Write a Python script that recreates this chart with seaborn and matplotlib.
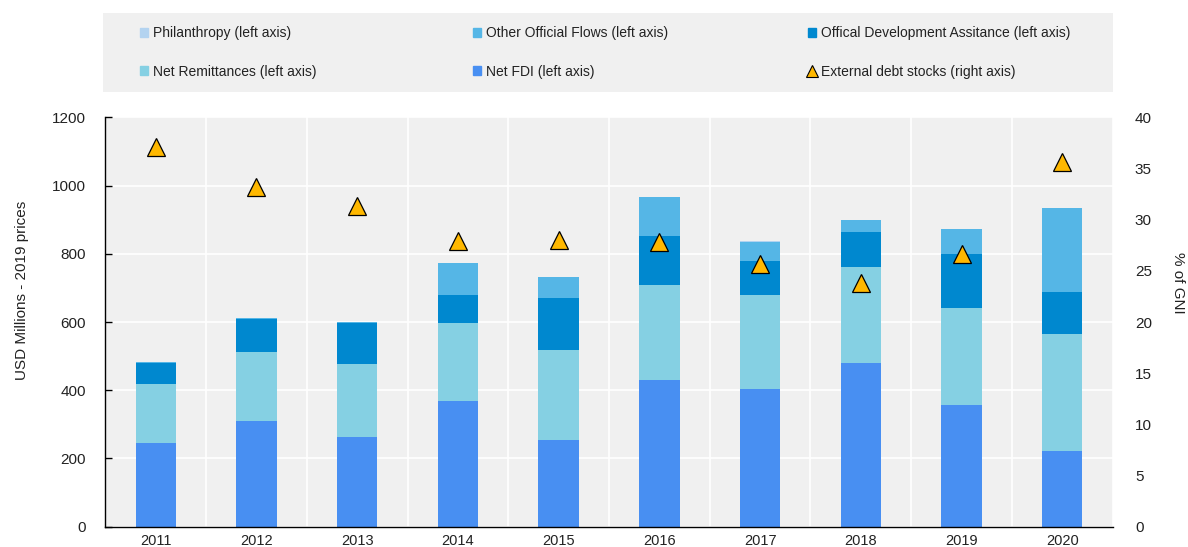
import numpy as np
import pandas as pd
import matplotlib
matplotlib.use("Agg")
import matplotlib.pyplot as plt
import matplotlib.patches as mpatches
from matplotlib.lines import Line2D
import seaborn as sns

# Data
years = ["2011", "2012", "2013", "2014", "2015", "2016", "2017", "2018", "2019", "2020"]
net_fdi = [245, 309, 262, 368, 255, 430, 404, 479, 357, 221]
net_remit = [174, 204, 216, 228, 262, 279, 276, 283, 285, 345]
oda = [60, 95, 120, 82, 153, 144, 99, 102, 158, 121]
oof = [3, 5, 2, 96, 62, 114, 56, 35, 73, 248]
philanthropy = [1, 0, 0, 0, 0, 0, 3, 1, 0, 0]
debt_stocks = [37.1, 33.2, 31.3, 27.9, 28.0, 27.8, 25.7, 23.8, 26.6, 35.6]

labels = ["Net FDI (left axis)", "Net Remittances (left axis)",
          "Offical Development Assitance (left axis)",
          "Other Official Flows (left axis)", "Philanthropy (left axis)"]
colors = ["#488FF2", "#85D0E3", "#0088CF", "#55B6E6", "#B3D3F0"]
tri_color = "#FFB800"

df = pd.DataFrame({"year": years, labels[0]: net_fdi, labels[1]: net_remit,
                   labels[2]: oda, labels[3]: oof, labels[4]: philanthropy})
cum = df[labels].cumsum(axis=1)
cum["year"] = years

sns.set_theme(style="white")
plt.rcParams["font.family"] = ["Liberation Sans", "DejaVu Sans"]
plt.rcParams["text.color"] = "#222222"

W, H = 1188, 547
fig = plt.figure(figsize=(W / 100, H / 100), dpi=100, facecolor="white")
ax = fig.add_axes([105.3 / W, 1 - 526.7 / H, (1112.7 - 105.3) / W, (526.7 - 117.3) / H])
ax.set_facecolor("#F0F0F0")

# stacked bars: draw cumulative totals from the top layer down
for lab, col in zip(labels[::-1], colors[::-1]):
    sns.barplot(data=cum, x="year", y=lab, color=col, saturation=1, width=0.4,
                linewidth=0, ax=ax)

ax.set_ylim(0, 1200)
ax.set_yticks(range(0, 1201, 200))
ax.set_xlabel("")
ax.set_ylabel("")

ax2 = ax.twinx()
sns.pointplot(x=years, y=debt_stocks, ax=ax2, color=tri_color, markers="^",
              linestyles="none", errorbar=None, markersize=13.5,
              markeredgecolor="black", markeredgewidth=0.9)
ax2.set_ylim(0, 40)
ax2.set_yticks(range(0, 41, 5))
ax2.set_xlim(-0.5, 9.5)
ax.set_xlim(-0.5, 9.5)

# x ticks: labels at centres, tick marks at category boundaries
ax.set_xticks(range(len(years)))
ax.set_xticklabels(years)
ax.set_xticks(np.arange(-0.5, len(years), 1), minor=True)
ax.tick_params(axis="x", which="major", length=0, pad=5, labelsize=10.5, labelcolor="#222222")
ax.tick_params(axis="x", which="minor", direction="in", length=5, width=1, color="black")
ax.tick_params(axis="y", direction="in", length=5, width=1, color="black", pad=14,
               labelsize=11, labelcolor="#222222", left=True)
ax2.tick_params(axis="y", length=0, pad=16, labelsize=11, labelcolor="#222222")

ax.set_axisbelow(True)
ax.grid(False)
ax.grid(which="minor", axis="x", color="white", linewidth=1.2)
ax.grid(which="major", axis="y", color="white", linewidth=1.2)

for s in ["top", "right"]:
    ax.spines[s].set_visible(False)
for s in ax2.spines.values():
    s.set_visible(False)
ax.spines["left"].set_color("black")
ax.spines["bottom"].set_color("black")
ax.spines["left"].set_linewidth(1)
ax.spines["bottom"].set_linewidth(1)

fig.text(22 / W, 1 - 290 / H, "USD Millions - 2019 prices", rotation=90,
         ha="center", va="center", fontsize=11)
fig.text(1178 / W, 1 - 283 / H, "% of GNI", rotation=270,
         ha="center", va="center", fontsize=11)

# legend background
fig.patches.append(mpatches.Rectangle((103 / W, 1 - 92 / H), (1113 - 103) / W, 79 / H,
                                      transform=fig.transFigure, facecolor="#F0F0F0",
                                      edgecolor="none", zorder=0))

tri = Line2D([], [], marker="^", color=tri_color, markeredgecolor="black",
             markersize=8, markeredgewidth=0.8, linestyle="none")
patch = {lab: mpatches.Patch(color=c) for lab, c in zip(labels, colors)}
columns = [
    ([patch[labels[4]], patch[labels[1]]], [labels[4], labels[1]], 139.5),
    ([patch[labels[3]], patch[labels[0]]], [labels[3], labels[0]], 473),
    ([patch[labels[2]], tri], [labels[2], "External debt stocks (right axis)"], 808),
]
for hs, ls, x0 in columns:
    fig.legend(hs, ls, loc="center left", bbox_to_anchor=(x0 / W, 1 - 52.5 / H),
               frameon=False, fontsize=10, handlelength=0.6, handleheight=0.6,
               handletextpad=0.35, labelspacing=1.73, borderpad=0, borderaxespad=0)

plt.savefig("out.png", dpi=100, facecolor="white")
